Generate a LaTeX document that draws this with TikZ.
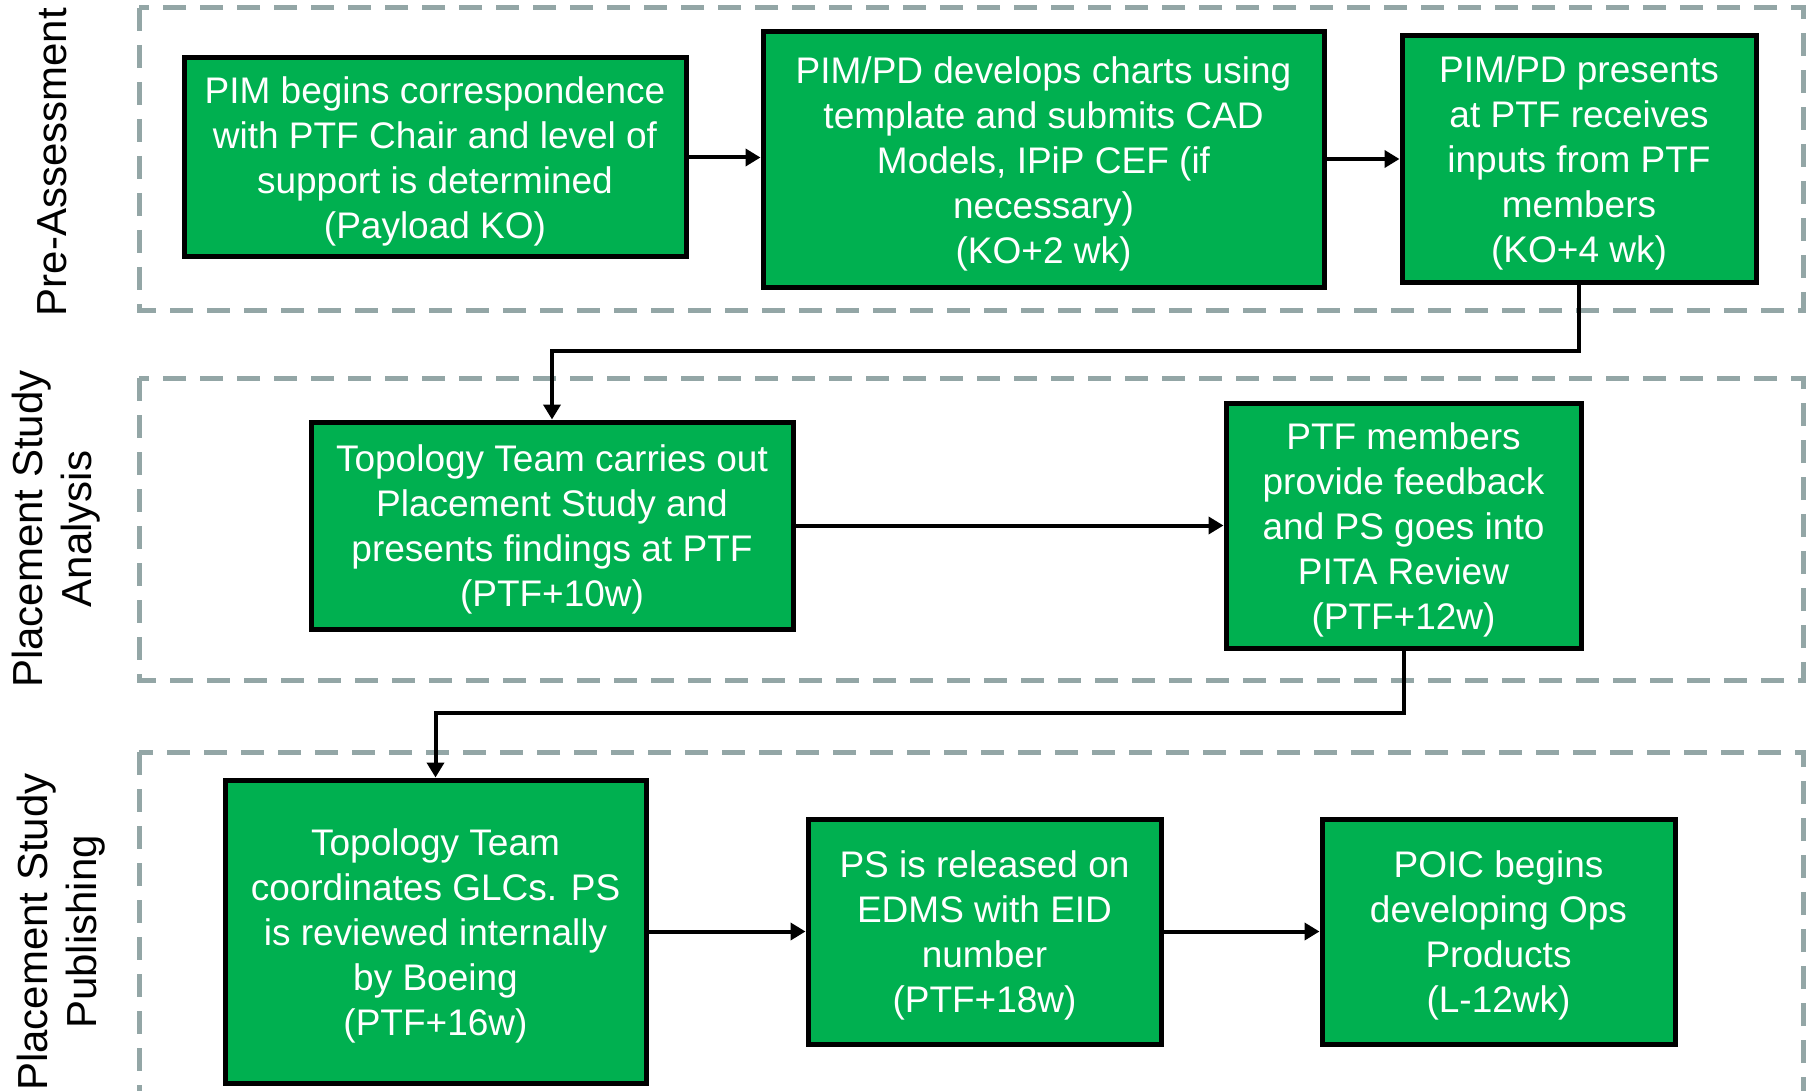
\documentclass[tikz,border=0pt]{standalone}
\usepackage{fontspec}
\setmainfont{Liberation Sans}
\usetikzlibrary{arrows.meta}
\definecolor{boxgreen}{HTML}{00B050}
\definecolor{framegray}{HTML}{93A6A6}
\newcommand{\boxtopstrut}{\rule{0pt}{35.5pt}}
\begin{document}
\begin{tikzpicture}[x=1pt,y=-1pt,
  stepbox/.style={draw=black, line width=5pt, fill=boxgreen, text=white, align=center, inner sep=0pt, font=\fontsize{37}{45}\selectfont},
  frame/.style={draw=framegray, line width=5pt, dash pattern=on 23pt off 14pt},
  conn/.style={draw=black, line width=4pt, -{Triangle[length=15pt,width=17pt]}},
  lane/.style={rotate=90, align=center, inner sep=0pt, font=\fontsize{42}{49}\selectfont}]
\useasboundingbox (0,0) rectangle (1806,1091);
\clip (0,0) rectangle (1806,1091);
% lane frames
\draw[frame] (139,8) rectangle (1803,310);
\draw[frame] (139,378) rectangle (1803,680);
\draw[frame] (139,752) rectangle (1803,1130);
% lane labels
\node[lane] (l1) at (52,162) {Pre-Assessment};
\node[lane] (l2) at (56,529) {Placement Study\\Analysis};
\node[lane] (l3) at (61,932) {Placement Study\\Publishing};
% steps
\node[stepbox, minimum width=502pt, minimum height=199pt] (n1) at (435,157.5)
  {\boxtopstrut PIM begins correspondence\\with PTF Chair and level of\\support is determined\\(Payload KO)};
\node[stepbox, minimum width=561pt, minimum height=255pt] (n2) at (1043.5,159.5)
  {\boxtopstrut PIM/PD develops charts using\\template and submits CAD\\Models, IPiP CEF (if\\necessary)\\(KO+2 wk)};
\node[stepbox, minimum width=354pt, minimum height=246pt] (n3) at (1579,159)
  {\boxtopstrut PIM/PD presents\\at PTF receives\\inputs from PTF\\members\\(KO+4 wk)};
\node[stepbox, minimum width=482pt, minimum height=207pt] (na) at (552,525.5)
  {\boxtopstrut Topology Team carries out\\Placement Study and\\presents findings at PTF\\(PTF+10w)};
\node[stepbox, minimum width=355pt, minimum height=245pt] (nb) at (1403.5,525.5)
  {\boxtopstrut PTF members\\provide feedback\\and PS goes into\\PITA Review\\(PTF+12w)};
\node[stepbox, minimum width=421pt, minimum height=303pt] (n4) at (435.5,931.5)
  {\boxtopstrut Topology Team\\coordinates GLCs. PS\\is reviewed internally\\by Boeing\\(PTF+16w)};
\node[stepbox, minimum width=353pt, minimum height=225pt] (n5) at (984.5,931.5)
  {\boxtopstrut PS is released on\\EDMS with EID\\number\\(PTF+18w)};
\node[stepbox, minimum width=353pt, minimum height=225pt] (n6) at (1498.5,931.5)
  {\boxtopstrut POIC begins\\developing Ops\\Products\\(L-12wk)};
% connectors
\coordinate (j1) at (1579,351);
\coordinate (j2) at (1403.5,713);
\draw[conn] (n1.east) -- (n1.east -| n2.west);
\draw[conn] (n2.east |- n3.west) -- (n3.west);
\draw[conn] (n3.south) -- (j1) -| (na.north);
\draw[conn] (na.east) -- (nb.west);
\draw[conn] (nb.south) -- (j2) -| (n4.north);
\draw[conn] (n4.east) -- (n5.west);
\draw[conn] (n5.east) -- (n6.west);
\end{tikzpicture}
\end{document}
